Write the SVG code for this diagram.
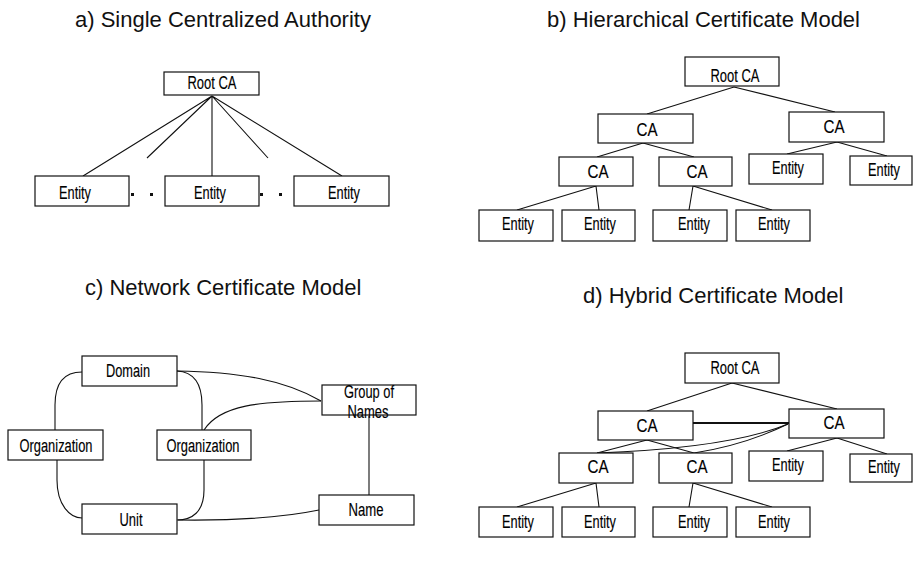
<svg xmlns="http://www.w3.org/2000/svg" width="914" height="577" viewBox="0 0 914 577">
  <style>
    .box { fill: #fff; stroke: #111; stroke-width: 1.2; }
    .edge { fill: none; stroke: #111; stroke-width: 1.1; }
    .title { font-family: "Liberation Sans", Arial, sans-serif; font-size: 22px; fill: #111; }
    .lbl { font-family: "Liberation Sans Narrow", "Liberation Sans", Arial, sans-serif; font-size: 17.5px; fill: #000; stroke: #000; stroke-width: 0.15; text-anchor: middle; }
    .dot { fill: #111; }
  </style>
  <rect width="914" height="577" fill="#fff"/>

  <!-- panel titles -->
  <g id="titles">
    <text class="title" x="75" y="27">a) Single Centralized Authority</text>
    <text class="title" x="547" y="27">b) Hierarchical Certificate Model</text>
    <text class="title" x="85" y="295">c) Network Certificate Model</text>
    <text class="title" x="583" y="303">d) Hybrid Certificate Model</text>
  </g>

  <!-- connectors -->
  <g id="connectors">
    <!-- a) single authority -->
    <path class="edge" d="M212,96 L83,176 M212,96 L147,158 M212,96 L212,176 M212,96 L268,158 M212,96 L342,176"/>
    <!-- b) hierarchy -->
    <path class="edge" d="M734,87 L647,114 M734,87 L835,112 M643,143 L597,157 M643,143 L694,157 M837,142 L787,154 M837,142 L887,156 M596,186 L517,210 M596,186 L599,210 M693,186 L689,210 M693,186 L772,210"/>
    <!-- c) network -->
    <path class="edge" d="M82,372 C62,372 55,385 55,405 L55,430"/>
    <path class="edge" d="M57,460 L57,480 C57,505 70,518 82,518"/>
    <path class="edge" d="M177,371 C195,372 202,385 202,405 L202,430"/>
    <path class="edge" d="M204,460 L204,490 C204,512 192,520 177,520"/>
    <path class="edge" d="M177,371 C240,372 285,380 321,401"/>
    <path class="edge" d="M204,430 C220,405 260,401 321,401"/>
    <path class="edge" d="M369,416 L369,495"/>
    <path class="edge" d="M178,520 C250,521 290,516 319,510"/>
    <!-- d) hybrid -->
    <path class="edge" d="M732,383 L647,411 M732,383 L837,409 M647,440 L597,453 M647,440 L694,453 M837,438 L787,451 M837,438 L887,454 M596,483 L517,507 M596,483 L599,507 M693,483 L689,507 M693,483 L772,507"/>
    <path class="edge" d="M693,423 L789,423" style="stroke-width:1.8"/>
    <path class="edge" d="M788,424 Q730,448 597,453"/>
    <path class="edge" d="M788,424 Q745,445 694,453"/>
  </g>

  <!-- a) Single Centralized Authority -->
  <g id="a-root"><rect class="box" x="164" y="72" width="95" height="23"/><text class="lbl" x="212" y="89" textLength="49" lengthAdjust="spacingAndGlyphs">Root CA</text></g>
  <g id="a-entity1"><rect class="box" x="35" y="176" width="94" height="30"/><text class="lbl" x="75" y="199" textLength="32" lengthAdjust="spacingAndGlyphs">Entity</text></g>
  <g id="a-entity2"><rect class="box" x="165" y="176" width="94" height="30"/><text class="lbl" x="210" y="199" textLength="32" lengthAdjust="spacingAndGlyphs">Entity</text></g>
  <g id="a-entity3"><rect class="box" x="294" y="176" width="95" height="30"/><text class="lbl" x="344" y="199" textLength="32" lengthAdjust="spacingAndGlyphs">Entity</text></g>
  <g id="a-dots">
    <rect class="dot" x="131" y="193" width="3" height="3"/>
    <rect class="dot" x="150" y="193" width="3" height="3"/>
    <rect class="dot" x="260" y="193" width="3" height="3"/>
    <rect class="dot" x="279" y="193" width="3" height="3"/>
  </g>

  <!-- b) Hierarchical Certificate Model -->
  <g id="b-root"><rect class="box" x="685" y="57" width="94" height="29"/><text class="lbl" x="735" y="82" textLength="49" lengthAdjust="spacingAndGlyphs">Root CA</text></g>
  <g id="b-ca-left"><rect class="box" x="598" y="114" width="95" height="29"/><text class="lbl" x="647" y="136" textLength="21" lengthAdjust="spacingAndGlyphs">CA</text></g>
  <g id="b-ca-right"><rect class="box" x="789" y="112" width="95" height="30"/><text class="lbl" x="834" y="133" textLength="21" lengthAdjust="spacingAndGlyphs">CA</text></g>
  <g id="b-ca-ll"><rect class="box" x="559" y="157" width="74" height="29"/><text class="lbl" x="598" y="178" textLength="21" lengthAdjust="spacingAndGlyphs">CA</text></g>
  <g id="b-ca-lr"><rect class="box" x="659" y="157" width="73" height="29"/><text class="lbl" x="697" y="178" textLength="21" lengthAdjust="spacingAndGlyphs">CA</text></g>
  <g id="b-entity-r1"><rect class="box" x="749" y="154" width="74" height="30"/><text class="lbl" x="788" y="174" textLength="32" lengthAdjust="spacingAndGlyphs">Entity</text></g>
  <g id="b-entity-r2"><rect class="box" x="850" y="156" width="62" height="29"/><text class="lbl" x="884" y="176" textLength="32" lengthAdjust="spacingAndGlyphs">Entity</text></g>
  <g id="b-entity-1"><rect class="box" x="479" y="210" width="74" height="31"/><text class="lbl" x="518" y="230" textLength="32" lengthAdjust="spacingAndGlyphs">Entity</text></g>
  <g id="b-entity-2"><rect class="box" x="562" y="210" width="73" height="31"/><text class="lbl" x="600" y="230" textLength="32" lengthAdjust="spacingAndGlyphs">Entity</text></g>
  <g id="b-entity-3"><rect class="box" x="653" y="210" width="74" height="31"/><text class="lbl" x="694" y="230" textLength="32" lengthAdjust="spacingAndGlyphs">Entity</text></g>
  <g id="b-entity-4"><rect class="box" x="736" y="210" width="74" height="31"/><text class="lbl" x="774" y="230" textLength="32" lengthAdjust="spacingAndGlyphs">Entity</text></g>

  <!-- c) Network Certificate Model -->
  <g id="c-domain"><rect class="box" x="82" y="356" width="95" height="30"/><text class="lbl" x="128" y="377" textLength="44" lengthAdjust="spacingAndGlyphs">Domain</text></g>
  <g id="c-org-left"><rect class="box" x="8" y="430" width="95" height="30"/><text class="lbl" x="56" y="452" textLength="73" lengthAdjust="spacingAndGlyphs">Organization</text></g>
  <g id="c-org-mid"><rect class="box" x="157" y="430" width="94" height="30"/><text class="lbl" x="203" y="452" textLength="73" lengthAdjust="spacingAndGlyphs">Organization</text></g>
  <g id="c-unit"><rect class="box" x="82" y="504" width="95" height="30"/><text class="lbl" x="131" y="526" textLength="23" lengthAdjust="spacingAndGlyphs">Unit</text></g>
  <g id="c-group"><rect class="box" x="322" y="385" width="94" height="30"/><text class="lbl" x="369" y="398" textLength="50" lengthAdjust="spacingAndGlyphs">Group of</text><text class="lbl" x="368" y="418" textLength="41" lengthAdjust="spacingAndGlyphs">Names</text></g>
  <g id="c-name"><rect class="box" x="319" y="495" width="95" height="30"/><text class="lbl" x="366" y="516" textLength="35" lengthAdjust="spacingAndGlyphs">Name</text></g>

  <!-- d) Hybrid Certificate Model -->
  <g id="d-root"><rect class="box" x="685" y="353" width="94" height="30"/><text class="lbl" x="735" y="374" textLength="49" lengthAdjust="spacingAndGlyphs">Root CA</text></g>
  <g id="d-ca-left"><rect class="box" x="598" y="411" width="95" height="29"/><text class="lbl" x="647" y="432" textLength="21" lengthAdjust="spacingAndGlyphs">CA</text></g>
  <g id="d-ca-right"><rect class="box" x="789" y="409" width="95" height="29"/><text class="lbl" x="834" y="429" textLength="21" lengthAdjust="spacingAndGlyphs">CA</text></g>
  <g id="d-ca-ll"><rect class="box" x="559" y="453" width="74" height="30"/><text class="lbl" x="598" y="473" textLength="21" lengthAdjust="spacingAndGlyphs">CA</text></g>
  <g id="d-ca-lr"><rect class="box" x="659" y="453" width="73" height="30"/><text class="lbl" x="697" y="473" textLength="21" lengthAdjust="spacingAndGlyphs">CA</text></g>
  <g id="d-entity-r1"><rect class="box" x="749" y="451" width="74" height="30"/><text class="lbl" x="788" y="471" textLength="32" lengthAdjust="spacingAndGlyphs">Entity</text></g>
  <g id="d-entity-r2"><rect class="box" x="850" y="454" width="62" height="28"/><text class="lbl" x="884" y="473" textLength="32" lengthAdjust="spacingAndGlyphs">Entity</text></g>
  <g id="d-entity-1"><rect class="box" x="479" y="507" width="74" height="30"/><text class="lbl" x="518" y="528" textLength="32" lengthAdjust="spacingAndGlyphs">Entity</text></g>
  <g id="d-entity-2"><rect class="box" x="562" y="507" width="73" height="30"/><text class="lbl" x="600" y="528" textLength="32" lengthAdjust="spacingAndGlyphs">Entity</text></g>
  <g id="d-entity-3"><rect class="box" x="653" y="507" width="74" height="30"/><text class="lbl" x="694" y="528" textLength="32" lengthAdjust="spacingAndGlyphs">Entity</text></g>
  <g id="d-entity-4"><rect class="box" x="736" y="507" width="74" height="30"/><text class="lbl" x="774" y="528" textLength="32" lengthAdjust="spacingAndGlyphs">Entity</text></g>
</svg>
